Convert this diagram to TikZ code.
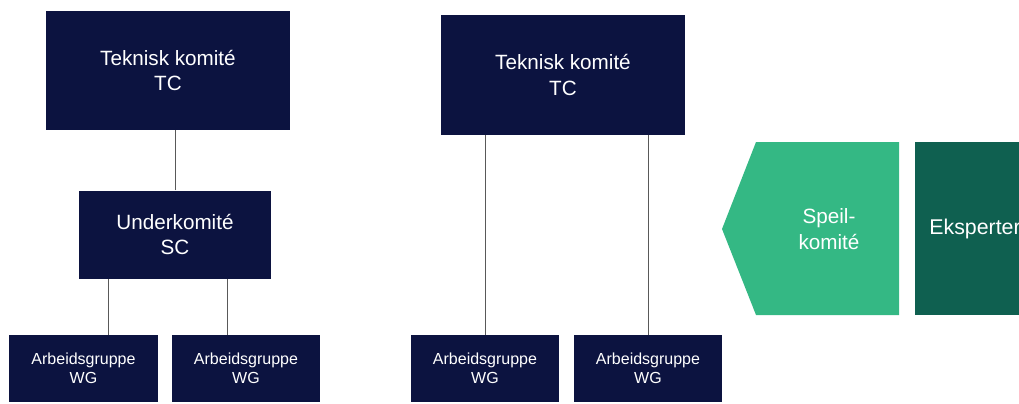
\documentclass[tikz,border=0pt]{standalone}
\usepackage{fontspec}
\setmainfont{Liberation Sans}
\usetikzlibrary{positioning}

\definecolor{navy}{HTML}{0C1340}
\definecolor{speilgreen}{HTML}{34B884}
\definecolor{ekspgreen}{HTML}{0F6050}

\tikzset{
  komite/.style={fill=navy, text=white, align=center, inner sep=0pt,
    font=\fontsize{15.5}{19}\selectfont},
  tcbox/.style={komite, minimum width=183pt, minimum height=89.5pt},
  scbox/.style={komite, minimum width=144pt, minimum height=66pt},
  wgbox/.style={komite, minimum width=111.5pt, minimum height=50.5pt,
    font=\fontsize{12}{14.5}\selectfont},
  link/.style={draw=black!65, line width=0.75pt}
}

\begin{document}
\begin{tikzpicture}[x=0.75pt,y=-0.75pt]
\useasboundingbox (0,0) rectangle (1019,403);
\clip (0,0) rectangle (1019,403);

% Left tree: TC - SC - WG
\node[tcbox] (tcA) at (168,70.5) {Teknisk komité\\TC};
\node[scbox] (scA) at (175,234.5) {Underkomité\\SC};
\node[wgbox] (wgA) at (83.5,368.5) {Arbeidsgruppe\\WG};
\node[wgbox] (wgB) at (246,368.5) {Arbeidsgruppe\\WG};

\draw[link] (scA.north) -- (scA.north |- tcA.south);
\draw[link] ([xshift=22.3pt]scA.south west) -- ([xshift=22.3pt]scA.south west |- wgA.north);
\draw[link] ([xshift=-33pt]scA.south east) -- ([xshift=-33pt]scA.south east |- wgB.north);

% Right tree: TC - WG
\node[tcbox] (tcB) at (563,75) {Teknisk komité\\TC};
\node[wgbox] (wgC) at (485,368.5) {Arbeidsgruppe\\WG};
\node[wgbox] (wgD) at (648,368.5) {Arbeidsgruppe\\WG};

\draw[link] (wgC.north) -- (wgC.north |- tcB.south);
\draw[link] (wgD.north) -- (wgD.north |- tcB.south);

% Mirror committee and experts
\fill[speilgreen] (756,142) -- (899,142) -- (899,315) -- (756,315) -- (722,229) -- cycle;
\node[komite, fill=none] (speil) at (829,229) {Speil-\\komité};
\node[komite, fill=ekspgreen, minimum width=90pt, minimum height=129.75pt,
  font=\fontsize{16}{19}\selectfont] (eksp) at (975,228.5) {Eksperter};

\end{tikzpicture}
\end{document}
